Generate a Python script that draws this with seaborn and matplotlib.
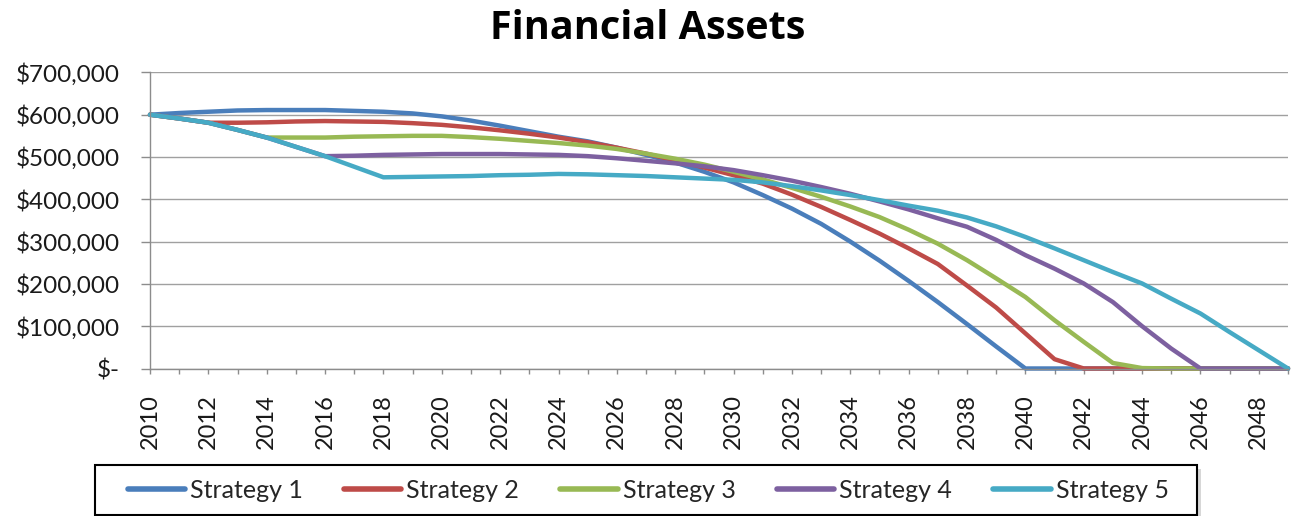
import numpy as np
import pandas as pd
import matplotlib
matplotlib.use("Agg")
import matplotlib.pyplot as plt
from matplotlib.patches import Rectangle
import seaborn as sns

# ---------------- data ----------------
years = list(range(2010, 2050))

strategy_1 = [600, 604, 607, 610, 611, 611, 611, 609, 607, 603,
              596, 586, 574, 561, 548, 537, 522, 505, 487, 465,
              440, 410, 378, 342, 300, 255, 207, 157, 105, 52,
              0, 0, 0, 0, 0, 0, 0, 0, 0, 0]
strategy_2 = [600, 591, 581, 581, 582, 584, 585, 584, 583, 580,
              576, 570, 563, 555, 546, 535, 522, 508, 492, 475,
              457, 437, 411, 382, 351, 319, 284, 247, 196, 144,
              83, 22, 0, 0, 0, 0, 0, 0, 0, 0]
strategy_3 = [600, 591, 581, 564, 546, 546, 546, 548, 549, 550,
              550, 547, 543, 538, 533, 527, 519, 508, 496, 482,
              465, 447, 427, 406, 383, 358, 328, 295, 256, 213,
              169, 114, 63, 13, 1, 0, 0, 0, 0, 0]
strategy_4 = [600, 591, 581, 564, 546, 524, 502, 503, 505, 506,
              507, 507, 507, 506, 505, 502, 497, 491, 485, 478,
              469, 457, 444, 429, 413, 395, 376, 355, 335, 304,
              268, 236, 201, 157, 100, 47, 0, 0, 0, 0]
strategy_5 = [600, 591, 581, 564, 546, 524, 502, 477, 452, 453,
              454, 455, 457, 458, 460, 459, 457, 455, 452, 449,
              446, 440, 431, 421, 410, 398, 385, 373, 357, 336,
              311, 284, 256, 228, 201, 165, 130, 86, 43, 0]

series_names = ["Strategy 1", "Strategy 2", "Strategy 3", "Strategy 4", "Strategy 5"]
series_values = [strategy_1, strategy_2, strategy_3, strategy_4, strategy_5]
series_colors = ["#4A7EBB", "#BE4B48", "#98B954", "#7D60A0", "#46AAC5"]

y_ticks = [0, 100000, 200000, 300000, 400000, 500000, 600000, 700000]
y_tick_labels = ["$-", "$100,000", "$200,000", "$300,000", "$400,000",
                 "$500,000", "$600,000", "$700,000"]
x_tick_labels = [str(y) if y % 2 == 0 else "" for y in years]
title = "Financial Assets"

# ---------------- frame ----------------
rows = []
for name, vals in zip(series_names, series_values):
    for yr, v in zip(years, vals):
        rows.append({"Year": yr, "Assets": v * 1000, "Strategy": name})
df = pd.DataFrame(rows)

sns.set_theme(style="white")
plt.rcParams["font.family"] = ["Lato", "DejaVu Sans"]

W, H = 1291, 516
fig = plt.figure(figsize=(W / 100, H / 100), dpi=100)
left, right, top, bottom = 150, 1288, 72.4, 368.5
ax = fig.add_axes([left / W, 1 - bottom / H, (right - left) / W, (bottom - top) / H])

sns.lineplot(data=df, x="Year", y="Assets", hue="Strategy",
             hue_order=series_names, palette=dict(zip(series_names, series_colors)),
             linewidth=3.2, ax=ax, clip_on=False,
             solid_joinstyle="round", solid_capstyle="round")

handles, labels = ax.get_legend_handles_labels()
if ax.get_legend() is not None:
    ax.get_legend().remove()

ax.set_xlim(2010, 2049)
ax.set_ylim(0, 700000)
ax.set_xticks(years)
ax.set_xticklabels(x_tick_labels)
ax.set_yticks(y_ticks)
ax.set_yticklabels(y_tick_labels)
ax.set_xlabel("")
ax.set_ylabel("")

ax.yaxis.grid(True, color="#a0a0a0", linewidth=1.0)
ax.xaxis.grid(False)
ax.set_axisbelow(True)
for s in ["top", "right"]:
    ax.spines[s].set_visible(False)
for s in ["left", "bottom"]:
    ax.spines[s].set_color("#8c8c8c")
    ax.spines[s].set_linewidth(1.0)

ax.tick_params(axis="y", length=6.5, width=1, color="#8c8c8c", pad=15,
               labelsize=17.5, labelcolor="#1a1a1a", left=True)
ax.tick_params(axis="x", length=3.6, width=1, color="#8c8c8c", pad=15,
               labelsize=17, labelcolor="#1a1a1a", labelrotation=90, bottom=True)

fig.text(647.5 / W, 1 - 39 / H, title, ha="center", va="baseline",
         fontsize=28.5, fontweight="bold", family=["Open Sans", "DejaVu Sans"],
         color="black")

# legend frame with shadow
bx0, bx1, by0, by1 = 95, 1197, 465, 515
fig.patches.append(Rectangle(((bx0 + 4) / W, 1 - (by1 + 4) / H), (bx1 - bx0) / W, (by1 - by0) / H,
                             transform=fig.transFigure, facecolor="#bdbdbd", edgecolor="none",
                             alpha=0.6, zorder=1))
fig.patches.append(Rectangle((bx0 / W, 1 - by1 / H), (bx1 - bx0) / W, (by1 - by0) / H,
                             transform=fig.transFigure, facecolor="white", edgecolor="black",
                             linewidth=1.5, zorder=2))

leg = fig.legend(handles, labels, loc="center", bbox_to_anchor=(648 / W, 1 - 490 / H),
                 ncol=5, frameon=False, fontsize=18, handlelength=2.3,
                 handletextpad=0.2, columnspacing=1.64)
leg.set_zorder(5)
for h in leg.legend_handles:
    h.set_linewidth(4)
    h.set_solid_capstyle("round")

fig.savefig("out.png", dpi=100)
